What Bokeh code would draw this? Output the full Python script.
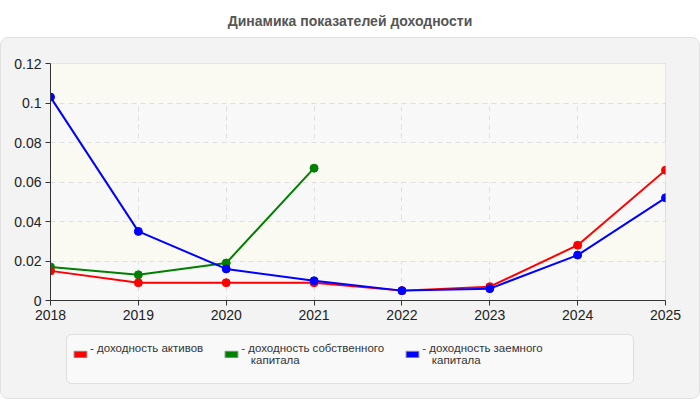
from bokeh.plotting import figure
from bokeh.models import (Range1d, FixedTicker, CustomJSTickFormatter, Legend,
                          LegendItem, BoxAnnotation, Div)
from bokeh.layouts import column
from bokeh.embed import file_html
from bokeh.resources import INLINE

# Yield indicators by year
years = [2018, 2019, 2020, 2021, 2022, 2023, 2024, 2025]
roa = [0.015, 0.009, 0.009, 0.009, 0.005, 0.007, 0.028, 0.066]
roe_years = [2018, 2019, 2020, 2021]
roe = [0.017, 0.013, 0.019, 0.067]
rod = [0.103, 0.035, 0.016, 0.010, 0.005, 0.006, 0.023, 0.052]

y_ticks = [0, 0.02, 0.04, 0.06, 0.08, 0.10, 0.12]

title_text = "Динамика показателей доходности"
label_roa = "- доходность активов\n "
label_roe = "- доходность собственного\n   капитала"
label_rod = "- доходность заемного\n   капитала"

FONT = "Liberation Sans"
PANEL = "#f3f3f3"

title = Div(
    text=(f'<div style="width:700px;text-align:center;font-family:\'{FONT}\';'
          f'font-weight:bold;font-size:14px;color:#555555;padding-top:11px;">'
          f'{title_text}</div>'),
    width=700, height=37, margin=0,
)

# ---- main chart ----
p = figure(width=698, height=288, output_backend="svg", toolbar_location=None,
           x_range=Range1d(2018, 2025), y_range=Range1d(0, 0.12),
           min_border_left=49, min_border_right=34, min_border_top=25,
           min_border_bottom=26, margin=0)
p.border_fill_color = PANEL
p.background_fill_color = "#fbfbfb"
p.outline_line_color = "#dddddd"
p.outline_line_width = 1

for ax in (p.xaxis[0], p.yaxis[0]):
    ax.axis_line_color = "#333333"
    ax.major_tick_line_color = "#333333"
    ax.major_tick_in = 0
    ax.major_tick_out = 5
    ax.minor_tick_line_color = None
    ax.major_label_text_font = FONT
    ax.major_label_text_font_size = "14px"
    ax.major_label_text_color = "#222222"
    ax.major_label_standoff = 4

p.xaxis.ticker = FixedTicker(ticks=years)
p.yaxis.ticker = FixedTicker(ticks=y_ticks)
p.yaxis.formatter = CustomJSTickFormatter(
    code="return String(parseFloat(tick.toFixed(4)));")

p.xgrid.grid_line_color = "#dddddd"
p.xgrid.grid_line_dash = "5 4"
p.ygrid.grid_line_color = "#dddddd"
p.ygrid.grid_line_dash = "5 4"
p.ygrid.band_fill_color = "#fdfdf4"
p.ygrid.band_fill_alpha = 1.0

# faint diagonal hatching over the plotting area
hatch = BoxAnnotation(fill_alpha=0, line_alpha=0, hatch_pattern="/",
                      hatch_color="#ececec", hatch_scale=5, hatch_weight=1,
                      hatch_alpha=0.4, level="underlay")
p.add_layout(hatch)

# series lines and markers
p.line(roe_years, roe, line_color="green", line_width=2)
p.scatter(roe_years, roe, size=8, color="green")
p.line(years, roa, line_color="red", line_width=2)
p.scatter(years, roa, size=8, color="red")
p.line(years, rod, line_color="blue", line_width=2)
p.scatter(years, rod, size=8, color="blue")

# ---- legend strip ----
# its frame is aligned with the chart frame above (615 px wide), ranges in pixels
lf = figure(width=698, height=72, output_backend="svg", toolbar_location=None,
            x_range=Range1d(0, 615), y_range=Range1d(0, 72),
            x_axis_type=None, y_axis_type=None,
            min_border_left=49, min_border_right=34, min_border_top=0,
            min_border_bottom=0, margin=0)
lf.border_fill_color = PANEL
lf.background_fill_color = PANEL
lf.outline_line_color = None
lf.grid.visible = False

legend_box = BoxAnnotation(left=16, right=583, bottom=15, top=64,
                           fill_color="#f9f9f9", fill_alpha=1.0,
                           line_color="#aaaaaa", line_width=1,
                           border_radius=5, level="underlay")
lf.add_layout(legend_box)

# swatch glyphs (kept outside the visible range, used only by the legend)
swatch = dict(left=[-30], right=[-20], top=[-20], bottom=[-30], line_color="#888888")
sw_roa = lf.quad(fill_color="red", **swatch)
sw_roe = lf.quad(fill_color="green", **swatch)
sw_rod = lf.quad(fill_color="blue", **swatch)

legend = Legend(
    items=[LegendItem(label=label_roa, renderers=[sw_roa]),
           LegendItem(label=label_roe, renderers=[sw_roe]),
           LegendItem(label=label_rod, renderers=[sw_rod])],
    orientation="horizontal",
    location=(22, 32),
    glyph_width=16, glyph_height=8, label_standoff=2, spacing=20,
    padding=4, margin=0,
    label_text_font=FONT, label_text_font_size="11.5px",
    label_text_color="#333333",
    background_fill_alpha=0, border_line_color=None,
)
lf.add_layout(legend, "center")

panel = column(p, lf, spacing=0, margin=0,
               styles={"border": "1px solid #e0e0e0", "border-radius": "8px",
                       "overflow": "hidden", "background-color": PANEL})

layout = column(title, panel, spacing=0)

open("out.html", "w").write(file_html(layout, INLINE))
